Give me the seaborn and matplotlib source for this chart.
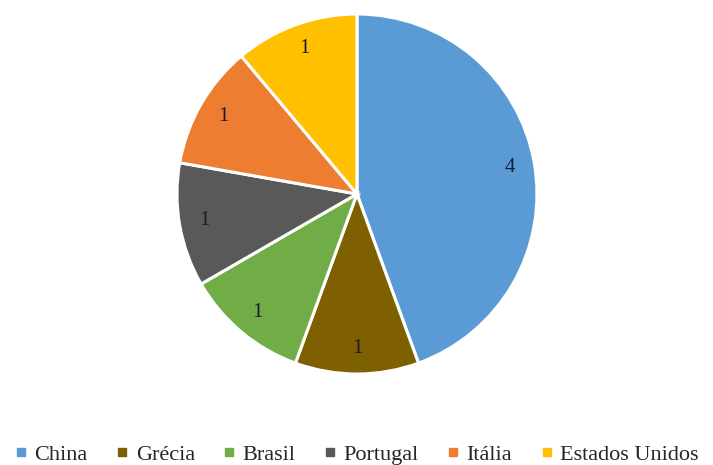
import matplotlib
matplotlib.use("Agg")
import matplotlib.pyplot as plt
import seaborn as sns
from matplotlib.lines import Line2D
from matplotlib.font_manager import FontProperties

countries = ["China", "Grécia", "Brasil", "Portugal", "Itália", "Estados Unidos"]
values = [4, 1, 1, 1, 1, 1]
colors = ["#5B9BD5", "#7F6000", "#70AD47", "#595959", "#ED7D31", "#FFC000"]

FAM = "Liberation Serif"
plt.rcParams['font.family'] = FAM

fig = plt.figure(figsize=(7.13, 4.65), dpi=100)
ax = fig.add_axes([0.2482, 0.1957, 0.5049, 0.7742])
palette = sns.color_palette(colors)
total = sum(values)
wedges, texts, autotexts = ax.pie(
    values, colors=palette, startangle=90, counterclock=False,
    autopct=lambda p: f"{round(p * total / 100):d}", pctdistance=0.86,
    wedgeprops=dict(edgecolor="white", linewidth=2.2),
    textprops=dict(fontsize=15, color="#1a1a2e", family=FAM), radius=1)
ax.set_xlim(-1.0, 1.0)
ax.set_ylim(-1.0, 1.0)
ax.axis("off")

handles = [Line2D([0], [0], marker="s", linestyle="none", markersize=6,
                  markerfacecolor=c, markeredgecolor=c) for c in palette]
fig.legend(handles, countries, loc="center", bbox_to_anchor=(0.5, 0.022),
           ncol=6, frameon=False, prop=FontProperties(family=FAM, size=16),
           handlelength=0.6, handletextpad=0.3, columnspacing=1.25,
           labelcolor="#262626")
fig.savefig("out.png", dpi=100)
